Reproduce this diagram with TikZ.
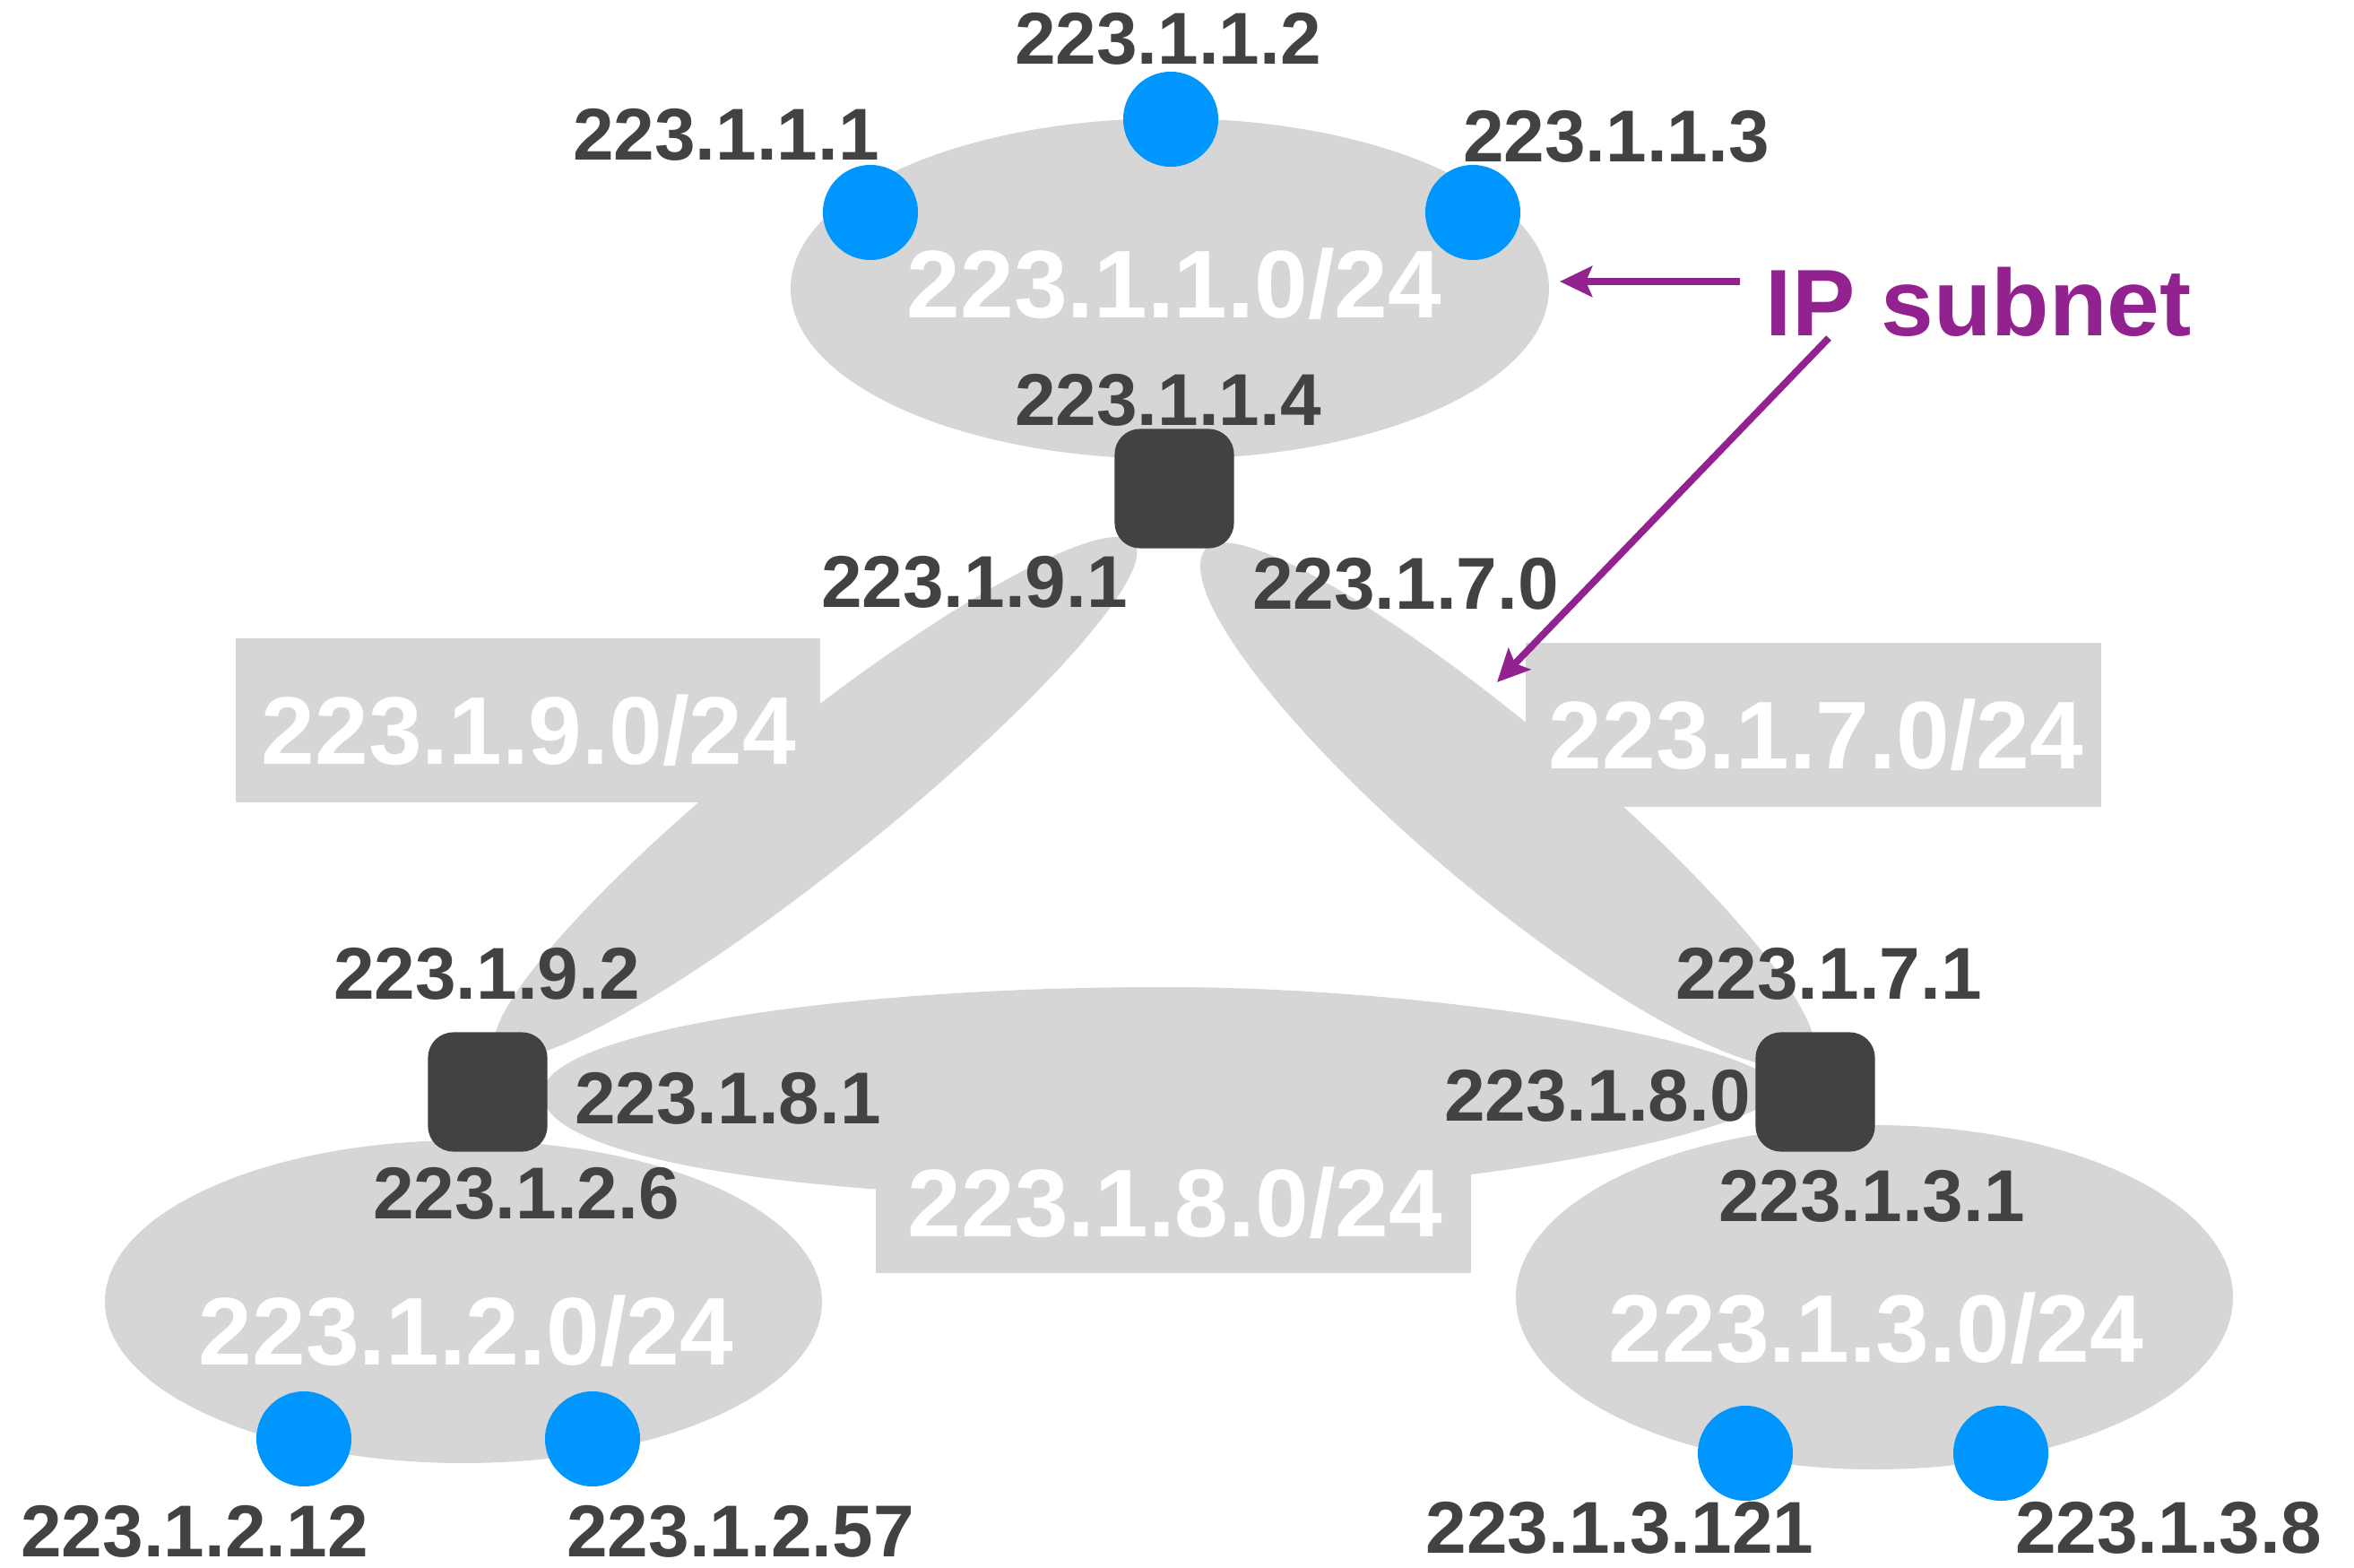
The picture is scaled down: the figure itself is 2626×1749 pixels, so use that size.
\documentclass[tikz,border=0pt]{standalone}
\usepackage{fontspec}
\setmainfont{Liberation Sans}
\usetikzlibrary{arrows.meta,shapes.geometric}
\definecolor{subgray}{HTML}{D6D6D6}
\definecolor{hostblue}{HTML}{0096FF}
\definecolor{dark}{HTML}{424242}
\definecolor{ipurple}{HTML}{92228F}
\tikzset{
  gray fill/.style={fill=subgray, draw=none},
  lbl/.style={font=\bfseries\fontsize{23.3}{28}\selectfont, text=dark, inner sep=0pt},
  wlbl/.style={font=\bfseries\fontsize{30.5}{36}\selectfont, text=white, inner sep=0pt},
  host/.style={circle, fill=hostblue, draw=none, minimum size=1.06cm, inner sep=0pt},
  router/.style={rectangle, rounded corners=8pt, fill=dark, draw=none, minimum size=1.33cm, inner sep=0pt},
  callout/.style={draw=ipurple, line width=2.2pt, -{Stealth[length=0.36cm, width=0.34cm, inset=0.07cm]}},
}
\begin{document}
\begin{tikzpicture}[x=0.01cm, y=-0.01cm]
\useasboundingbox (0,0) rectangle (2626,1749);

% subnet ellipses
\fill[gray fill] (1305,322) ellipse [x radius=423, y radius=190];
\fill[gray fill] (517,1452) ellipse [x radius=400, y radius=180];
\fill[gray fill] (2091,1447) ellipse [x radius=400, y radius=192];

% link 223.1.8.0/24 (egg shaped)
\fill[gray fill] (605,1220)
  .. controls (605,1154) and (916,1101) .. (1300,1101)
  .. controls (1600,1101) and (1960,1160) .. (1990,1216)
  .. controls (1950,1270) and (1600,1335) .. (1250,1336)
  .. controls (880,1336) and (605,1290) .. (605,1220) -- cycle;

% link 223.1.9.0/24
\begin{scope}[shift={(910,890)}, rotate=38.66]
  \fill[gray fill] (455,0)
    arc[start angle=0, end angle=180, x radius=455, y radius=76]
    arc[start angle=180, end angle=360, x radius=455, y radius=80] -- cycle;
\end{scope}
% link 223.1.7.0/24
\begin{scope}[shift={(1682.5,896)}, rotate=-40.08]
  \fill[gray fill] (441,0)
    arc[start angle=0, end angle=180, x radius=441, y radius=100]
    arc[start angle=180, end angle=360, x radius=441, y radius=82] -- cycle;
\end{scope}

% label rectangles
\fill[gray fill] (263,712) rectangle (915,895);
\fill[gray fill] (1702,717) rectangle (2344,900);
\fill[gray fill] (977,1270) rectangle (1641,1420);

% white subnet labels
\node[wlbl] (n1) at (1310,317) {223.1.1.0/24};
\node[wlbl] (n9) at (590,815) {223.1.9.0/24};
\node[wlbl] (n7) at (2026,820) {223.1.7.0/24};
\node[wlbl] (n8) at (1311,1342) {223.1.8.0/24};
\node[wlbl] (n2) at (520,1485) {223.1.2.0/24};
\node[wlbl] (n3) at (2093,1482) {223.1.3.0/24};

% dark address labels
\node[lbl] (l112) at (1303,43) {223.1.1.2};
\node[lbl] (l111) at (810,150) {223.1.1.1};
\node[lbl] (l113) at (1803,152) {223.1.1.3};
\node[lbl] (l114) at (1303,446) {223.1.1.4};
\node[lbl] (l191) at (1087,649) {223.1.9.1};
\node[lbl] (l170) at (1568,651) {223.1.7.0};
\node[lbl] (l192) at (543,1086) {223.1.9.2};
\node[lbl] (l181) at (812,1225) {223.1.8.1};
\node[lbl] (l126) at (587,1331) {223.1.2.6};
\node[lbl] (l171) at (2040,1086) {223.1.7.1};
\node[lbl] (l180) at (1782,1222) {223.1.8.0};
\node[lbl] (l131) at (2088,1334) {223.1.3.1};
\node[lbl] (l1212) at (217,1708) {223.1.2.12};
\node[lbl] (l1257) at (826,1708) {223.1.2.57};
\node[lbl] (l13121) at (1807,1704) {223.1.3.121};
\node[lbl] (l138) at (2419,1704) {223.1.3.8};

% routers
\node[router] (r1) at (1310,545) {};
\node[router] (r2) at (544,1218) {};
\node[router] (r3) at (2025,1218) {};

% hosts
\node[host] (h11) at (971,237) {};
\node[host] (h12) at (1306,133) {};
\node[host] (h13) at (1643,237) {};
\node[host] (h21) at (339,1605) {};
\node[host] (h22) at (661,1605) {};
\node[host] (h31) at (1947,1621) {};
\node[host] (h32) at (2232,1621) {};

% IP subnet callout
\node[anchor=west, inner sep=0pt, text=ipurple, font=\bfseries\fontsize{30}{36}\selectfont] (ip) at (1969,337) {IP subnet};
\coordinate (ha) at (1941,314);
\coordinate (hb) at (1740,314);
\coordinate (da) at (2040,377);
\coordinate (db) at (1670,761);
\draw[callout] (ha) -- (hb);
\draw[callout] (da) -- (db);
\end{tikzpicture}
\end{document}
